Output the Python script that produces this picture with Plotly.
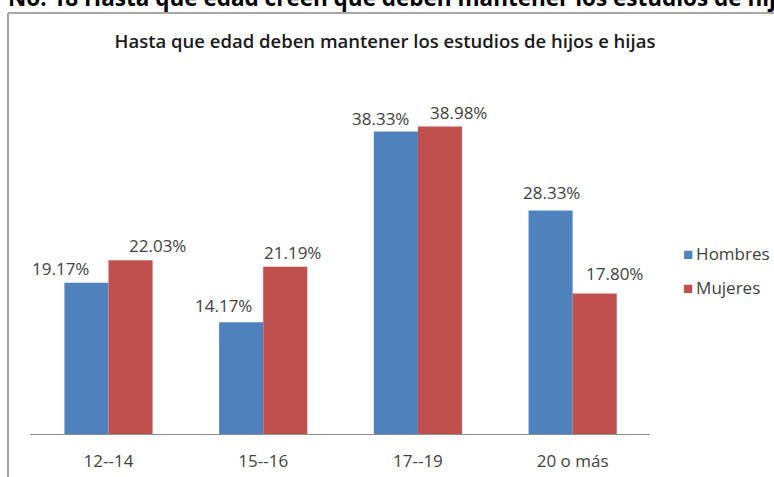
import plotly.graph_objects as go

categorias = ["12--14", "15--16", "17--19", "20 o más"]
hombres = [19.17, 14.17, 38.33, 28.33]
mujeres = [22.03, 21.19, 38.98, 17.80]
series = ["Hombres", "Mujeres"]
colores = ["#4F81BD", "#C0504D"]

titulo = "Hasta que edad deben mantener los estudios de hijos e hijas"
encabezado = "No. 18 Hasta que edad creen que deben mantener los estudios de hijos e hijas"

# desplazamiento de las etiquetas respecto al centro de cada categoria (px)
desplaz_h = {"Hombres": [-48, -40, -37, -21], "Mujeres": [49, 29, 41, 42]}
desplaz_v = {"Hombres": [14, 17, 13, 18], "Mujeres": [15, 14, 14, 20]}

W, H = 774, 477
L, R, T, B = 30, 124, 79, 43
pw, ph = W - L - R, H - T - B


def px_x(px):
    return (px - L) / pw


def px_y(py):
    return (H - B - py) / ph


fuente = "Open Sans"
gris = "#404040"

fig = go.Figure()
for nombre, valores, color in zip(series, [hombres, mujeres], colores):
    fig.add_trace(go.Bar(
        x=categorias,
        y=valores,
        name=nombre,
        marker=dict(color=color, line=dict(width=0)),
        showlegend=False,
    ))
    for cat, v, dx, dy in zip(categorias, valores, desplaz_h[nombre], desplaz_v[nombre]):
        fig.add_annotation(
            x=cat, y=v, xref="x", yref="y",
            text=f"{v:.2f}%", showarrow=False,
            xanchor="center", yanchor="middle",
            xshift=dx, yshift=dy,
            font=dict(family=fuente, size=17, color=gris),
        )

fig.update_layout(
    width=W, height=H,
    margin=dict(l=L, r=R, t=T, b=B, autoexpand=False),
    paper_bgcolor="white",
    plot_bgcolor="white",
    barmode="group",
    bargap=0.43,
    bargroupgap=0,
    font=dict(family=fuente, color=gris),
    title=dict(
        text=titulo,
        x=385 / W, xref="container", xanchor="center",
        y=1 - 42 / H, yref="container", yanchor="middle",
        font=dict(family=fuente, size=18.5, color="#1a1a1a", weight=600),
    ),
    xaxis=dict(
        showline=True, linecolor="#8c8c8c", linewidth=1,
        showgrid=False, ticks="", ticklabelstandoff=12, automargin=False,
        tickfont=dict(family=fuente, size=17, color=gris),
    ),
    yaxis=dict(range=[0, 45], visible=False, showgrid=False, automargin=False),
)

# marco del grafico: solo borde izquierdo y superior (el resto queda recortado)
for x0, y0, x1, y1 in [(8, 13, 8, 700), (8, 13, 1000, 13)]:
    fig.add_shape(
        type="line", xref="paper", yref="paper",
        x0=px_x(x0), x1=px_x(x1), y0=px_y(y0), y1=px_y(y1),
        line=dict(color="#a6a6a6", width=2), layer="below",
    )

# encabezado cortado arriba
fig.add_annotation(
    text=encabezado, xref="paper", yref="paper",
    x=px_x(6), y=px_y(15), xanchor="left", yanchor="bottom",
    showarrow=False,
    font=dict(family=fuente, size=22.5, color="#000000", weight="bold"),
)

# leyenda
for i, (nombre, color) in enumerate(zip(series, colores)):
    fig.add_annotation(
        text=f'<span style="color:{color}">■</span>\u2009{nombre}',
        xref="paper", yref="paper",
        x=px_x(681), y=px_y(253 + 34 * i), xanchor="left", yanchor="middle",
        showarrow=False,
        font=dict(family=fuente, size=17, color=gris),
    )

fig.write_html(
    "out.html",
    config={"displayModeBar": False},
    post_script="document.body.style.margin='0';document.body.style.overflow='hidden';",
)
